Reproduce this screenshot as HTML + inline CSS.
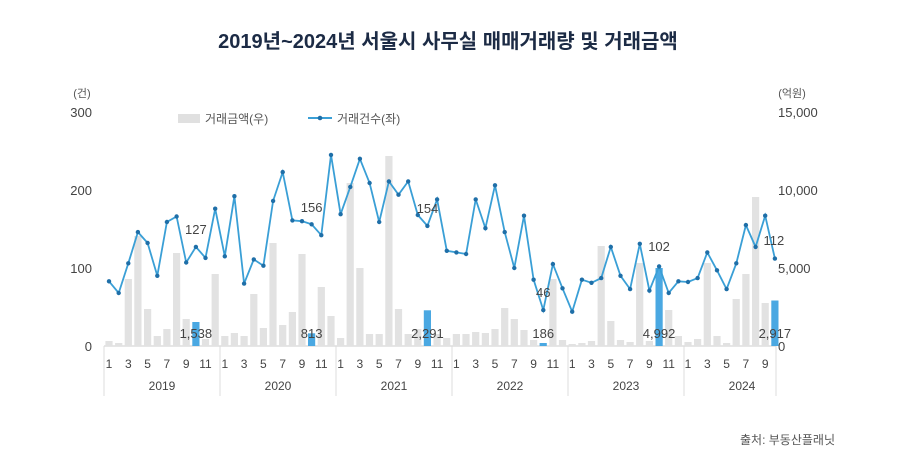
<!DOCTYPE html>
<html><head><meta charset="utf-8">
<style>
html,body{margin:0;padding:0;background:#fff;width:900px;height:470px;overflow:hidden;}
svg{display:block;font-family:"Liberation Sans","Noto Sans CJK KR",sans-serif;}
</style></head>
<body>
<svg id="c" width="900" height="470" viewBox="0 0 900 470" xmlns="http://www.w3.org/2000/svg">
<text x="448" y="48" text-anchor="middle" font-size="20" font-weight="bold" fill="#1c2b45">2019년~2024년 서울시 사무실 매매거래량 및 거래금액</text>
<text x="82" y="97" text-anchor="middle" font-size="11" fill="#555">(건)</text>
<text x="792" y="97" text-anchor="middle" font-size="11" fill="#555">(억원)</text>
<g font-size="13" fill="#444" text-anchor="end">
<text x="92" y="117">300</text><text x="92" y="195">200</text><text x="92" y="273">100</text><text x="92" y="351">0</text>
</g>
<g font-size="13" fill="#444" text-anchor="start">
<text x="778" y="117">15,000</text><text x="778" y="195">10,000</text><text x="778" y="273">5,000</text><text x="778" y="351">0</text>
</g>
<rect x="178" y="114" width="22" height="9" fill="#e0e0e0"/>
<text x="205" y="123" font-size="12" fill="#555">거래금액(우)</text>
<line x1="308" y1="118" x2="332" y2="118" stroke="#3a9fd6" stroke-width="2"/>
<circle cx="320" cy="118" r="2.3" fill="#1f6fa8"/>
<text x="337" y="123" font-size="12" fill="#555">거래건수(좌)</text>
<text x="835" y="444" text-anchor="end" font-size="12" fill="#555">출처: 부동산플래닛</text>
<g id="g"></g>
</svg>
<script>
var line=[83,68,106,146,132,90,159,166,107,127,113,176,
115,192,80,111,103,186,223,161,160,156,142,245,
169,204,240,209,159,211,194,211,168,154,188,122,
120,118,188,151,206,146,100,167,85,46,105,74,
44,85,81,87,127,90,73,131,71,102,68,83,
82,87,120,97,73,106,155,127,167,112];
var bars=[5,3,67,110,37,10,17,93,27,24,7,72,
10,13,10,52,18,103,21,34,92,12.7,59,30,
8,163,78,12,12,190,37,12,17,35.7,12,8,
12,12,14,13,17,38,27,16,6,3,67,6,
2,3,5,100,25,6,4,83,5,78,36,10,
4,7,83,10,3,47,72,149,43,45.5];
var g=document.getElementById('g'),h='';
function X(i){return 109+i*9.65;}
var B=346;
h+='<line x1="104" y1="346" x2="776" y2="346" stroke="#ccc"/>';
for(var i=0;i<70;i++){
 var blue=(i%12==9);
 h+='<rect x="'+(X(i)-3.6).toFixed(1)+'" y="'+(B-bars[i]).toFixed(1)+'" width="7.2" height="'+bars[i]+'" fill="'+(blue?'#4aa8e2':'#e2e2e2')+'"/>';
}
var pts=[];for(i=0;i<70;i++)pts.push(X(i).toFixed(1)+','+(B-line[i]*0.78).toFixed(1));
h+='<polyline points="'+pts.join(' ')+'" fill="none" stroke="#3a9fd6" stroke-width="1.8"/>';
for(i=0;i<70;i++)h+='<circle cx="'+X(i).toFixed(1)+'" cy="'+(B-line[i]*0.78).toFixed(1)+'" r="2.2" fill="#1f6fa8"/>';
var lbl=[[127,'127',1538,'1,538'],[156,'156',813,'813'],[154,'154',2291,'2,291'],[46,'46',186,'186'],[102,'102',4992,'4,992'],[112,'112',2917,'2,917']];
for(var y=0;y<6;y++){
 var xi=X(y*12+9);
 var ly=[234,212,213,297,251,245][y];
 h+='<text x="'+(xi+ (y==5?-1:0))+'" y="'+ly+'" text-anchor="middle" font-size="13" fill="#444">'+lbl[y][1]+'</text>';
 h+='<text x="'+xi+'" y="338" text-anchor="middle" font-size="13" fill="#444">'+lbl[y][3]+'</text>';
 for(var m=0;m<12;m+=2){if(y==5&&m==10)continue;h+='<text x="'+X(y*12+m).toFixed(1)+'" y="368" text-anchor="middle" font-size="12" fill="#444">'+(m+1)+'</text>';}
 h+='<text x="'+(104+116*y+58)+'" y="390" text-anchor="middle" font-size="12" fill="#444">'+(2019+y)+'</text>';
}
for(y=0;y<=6;y++){var sx=104+116*y;if(y==6)sx=776;h+='<line x1="'+sx+'" y1="346" x2="'+sx+'" y2="396" stroke="#ddd"/>';}
g.innerHTML=h;
</script>
</body></html>
